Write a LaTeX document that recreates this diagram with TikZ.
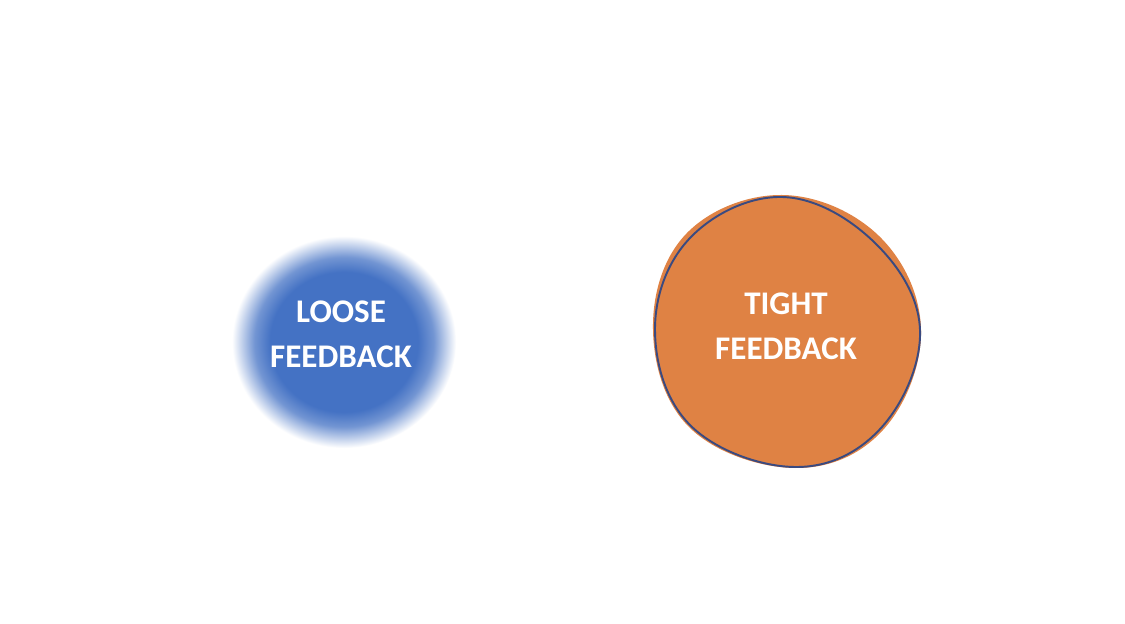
\documentclass[tikz,border=0pt]{standalone}
\usepackage{fontspec}
\setmainfont{Carlito}
\definecolor{blobblue}{HTML}{4472C4}
\definecolor{bloborange}{HTML}{DF8244}
\definecolor{rimblue}{HTML}{3A4A80}
\pgfdeclareradialshading{fuzzyblob}{\pgfpoint{0bp}{0bp}}{%
  color(0bp)=(blobblue); color(16.5bp)=(blobblue); color(20bp)=(blobblue!75!white);
  color(25bp)=(white); color(50bp)=(white)}
\tikzset{
  blobtext/.style={text=white,align=center,font=\bfseries\fontsize{18.8}{25.6}\selectfont}
}
\begin{document}
\begin{tikzpicture}[x=0.02cm,y=-0.02cm]
\useasboundingbox[fill=white] (0,0) rectangle (1125,624);
% loose blob
\shade[shading=fuzzyblob] (344,342) ellipse (112 and 106);
\node[blobtext] (loose) at (341,334) {LOOSE\\FEEDBACK};
% tight blob
\fill[bloborange] plot[smooth cycle,tension=0.65] coordinates {(782,195) (879,236) (921,330)
  (883,430) (795,468) (690,428) (653,330) (686,234)};
\draw[rimblue,line width=1.1pt] plot[smooth cycle,tension=0.65] coordinates {(782,197)
  (874,242) (920,330) (881,428) (795,467) (691,426) (655,330) (690,238)};
\node[blobtext] (tight) at (786,326) {TIGHT\\FEEDBACK};
\end{tikzpicture}
\end{document}
